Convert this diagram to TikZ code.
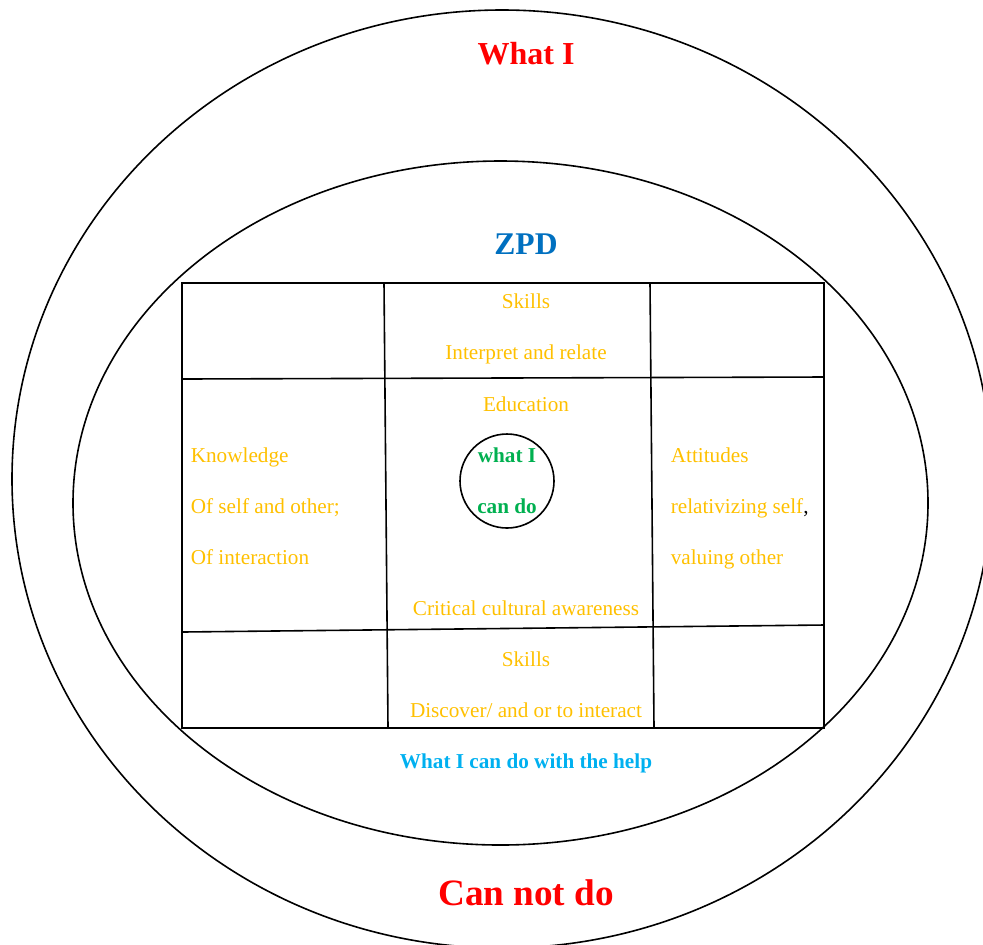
\documentclass[tikz,border=0pt]{standalone}
\usepackage{fontspec}
\setmainfont{Liberation Serif}
\usetikzlibrary{positioning}
\definecolor{gold}{RGB}{255,192,0}
\definecolor{zpdblue}{RGB}{0,112,192}
\definecolor{helpblue}{RGB}{0,176,240}
\definecolor{candogreen}{RGB}{0,176,80}

\begin{document}
\begin{tikzpicture}[x=0.5pt,y=-0.5pt,line width=0.8pt,
  lbl/.style={text=gold,font=\fontsize{10.6}{12}\selectfont,inner sep=0pt,anchor=base},
  lblw/.style={lbl,anchor=base west},
  bold/.style={inner sep=0pt,anchor=base,font=\fontsize{#1}{#1}\selectfont\bfseries}]
\useasboundingbox (0,0) rectangle (983,944);
\clip (0,0) rectangle (983,944);

% the two zones
\draw (502,479) ellipse[x radius=490,y radius=469];
\draw (500.5,503) ellipse[x radius=427.5,y radius=342];

% grid corners
\coordinate (tl) at (182,283);
\coordinate (br) at (824,728);
\coordinate (a1) at (182,379);
\coordinate (b1) at (824,377);
\coordinate (a2) at (182,632);
\coordinate (b2) at (824,625);
\coordinate (c1) at (384,283);
\coordinate (d1) at (388,728);
\coordinate (c2) at (650,283);
\coordinate (d2) at (654,728);
\draw (tl) rectangle (br);
\foreach \p/\q in {a1/b1,a2/b2,c1/d1,c2/d2}
	\draw (\p)--(\q);

\node[circle,draw,minimum size=47pt,inner sep=0pt] (core) at (507,481) {};

% headings
\node[bold=16,text=red] (whati) at (526,64) {What I};
\node[bold=15.8,text=zpdblue] (zpd) at (526,254) {ZPD};
\node[bold=10.6,text=helpblue] (help) at (526,768) {What I can do with the help};
\node[bold=18.6,text=red] (cannot) at (526,905) {Can not do};
\node[bold=10.6,text=candogreen] (cando1) at (507,462) {what I};
\node[bold=10.6,text=candogreen] (cando2) at (507,513) {can do};

% middle column
\node[lbl] (skills1) at (526,308) {Skills};
\node[lbl] (interp) at (526,359) {Interpret and relate};
\node[lbl] (edu) at (526,411) {Education};
\node[lbl] (crit) at (526,615) {Critical cultural awareness};
\node[lbl] (skills2) at (526,666) {Skills};
\node[lbl] (disc) at (526,717) {Discover/ and or to interact};

% side columns
\node[lblw] (know1) at (190,462) {Knowledge};
\node[lblw] (know2) at (190,513) {Of self and other;};
\node[lblw] (know3) at (190,564) {Of interaction};
\node[lblw] (att1) at (670,462) {Attitudes};
\node[lblw] (att2) at (670,513) {relativizing self\textcolor{black}{,}};
\node[lblw] (att3) at (670,564) {valuing other};

\end{tikzpicture}
\end{document}
